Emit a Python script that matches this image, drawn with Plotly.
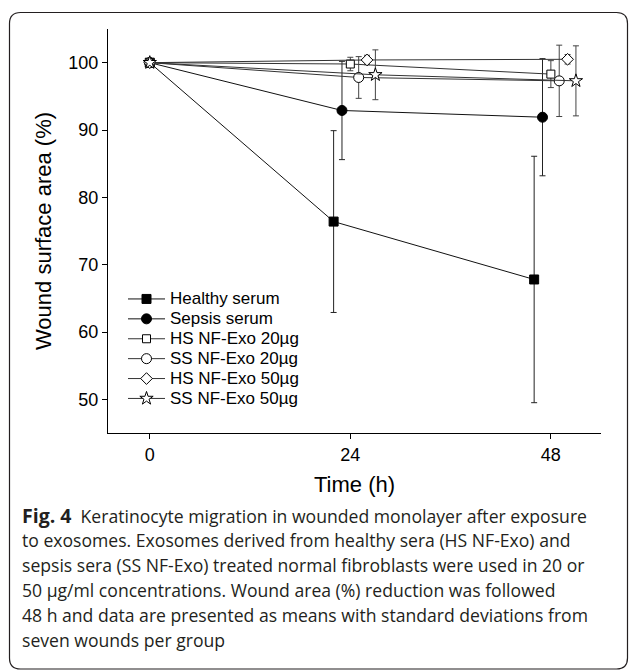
import plotly.graph_objects as go

# ---------------- data ----------------
series_names = ["Healthy serum", "Sepsis serum", "HS NF-Exo 20µg",
                "SS NF-Exo 20µg", "HS NF-Exo 50µg", "SS NF-Exo 50µg"]

# time (h); groups are drawn slightly side by side at 24 h and 48 h
healthy_x = [0, 22, 46]
sepsis_x = [0, 23, 47]
hs20_x = [0, 24, 48]
ss20_x = [0, 25, 49]
hs50_x = [0, 26, 50]
ss50_x = [0, 27, 51]

# mean wound surface area (%)
healthy_y = [100, 76.4, 67.8]
sepsis_y = [100, 92.9, 91.9]
hs20_y = [100, 99.8, 98.3]
ss20_y = [100, 97.8, 97.3]
hs50_y = [100, 100.4, 100.5]
ss50_y = [100, 98.2, 97.3]

# standard deviations
healthy_sd = [None, 13.5, 18.3]
sepsis_sd = [None, 7.3, 8.7]
hs20_sd = [None, 1.0, 2.0]
ss20_sd = [None, 3.1, 5.3]
hs50_sd = [None, 0.7, 0.7]
ss50_sd = [None, 3.7, 5.2]

x_ticks = [0, 24, 48]
y_ticks = [50, 60, 70, 80, 90, 100]

caption_lines = [
    '<b><span style="font-size:19.5px">Fig. 4</span></b>\u00a0\u00a0Keratinocyte migration in wounded monolayer after exposure',
    "to exosomes. Exosomes derived from healthy sera (HS NF-Exo) and",
    "sepsis sera (SS NF-Exo) treated normal fibroblasts were used in 20 or",
    "50 µg/ml concentrations. Wound area (%) reduction was followed",
    "48 h and data are presented as means with standard deviations from",
    "seven wounds per group",
]

# ---------------- layout geometry (pixels) ----------------
W, H = 629, 670
L, R, T, B = 108, 28, 29, 237
PW, PH = W - L - R, H - T - B


def px_x(px):
    return (px - L) / PW


def px_y(py):
    return (H - B - py) / PH


FONT = "Liberation Sans, Arial, sans-serif"
CAP_FONT = "Open Sans, Noto Sans, sans-serif"
INK = "#231f20"

styles = [
    dict(symbol="square", size=9, color="black", line=dict(color="black", width=1)),
    dict(symbol="circle", size=10, color="black", line=dict(color="black", width=1)),
    dict(symbol="square", size=8, color="white", line=dict(color="black", width=1)),
    dict(symbol="circle", size=10, color="white", line=dict(color="black", width=1)),
    dict(symbol="diamond", size=9, color="white", line=dict(color="black", width=1)),
    dict(symbol="star", size=10, color="white", line=dict(color="black", width=1)),
]

xs = [healthy_x, sepsis_x, hs20_x, ss20_x, hs50_x, ss50_x]
ys = [healthy_y, sepsis_y, hs20_y, ss20_y, hs50_y, ss50_y]
sds = [healthy_sd, sepsis_sd, hs20_sd, ss20_sd, hs50_sd, ss50_sd]
line_cols = ["#111111", "#111111", "#333333", "#333333", "#333333", "#333333"]
err_cols = ["#222222", "#222222", "#444444", "#444444", "#444444", "#444444"]

fig = go.Figure()
for name, x, y, sd, st, lc, ec in zip(series_names, xs, ys, sds, styles, line_cols, err_cols):
    fig.add_trace(go.Scatter(
        x=x, y=y, mode="lines+markers",
        name='<span style="font-size:17px">' + name + "</span>",
        line=dict(color=lc, width=1),
        marker=st,
        error_y=dict(type="data", array=sd, visible=True, color=ec,
                     thickness=1, width=3),
        cliponaxis=False,
    ))

axis_common = dict(
    showgrid=False, zeroline=False, showline=True, linecolor="black",
    linewidth=1.3, ticks="outside", ticklen=5, tickwidth=1.3,
    tickcolor="black", tickfont=dict(family=FONT, size=18, color="black"),
)

fig.update_layout(
    width=W, height=H,
    margin=dict(l=L, r=R, t=T, b=B, pad=0),
    paper_bgcolor="white", plot_bgcolor="white",
    showlegend=True,
    legend=dict(
        x=px_x(123), y=px_y(284), xanchor="left", yanchor="top",
        bgcolor="rgba(0,0,0,0)", borderwidth=0,
        font=dict(family=FONT, size=13, color="black"),
        tracegroupgap=0, itemwidth=37,
    ),
    xaxis=dict(range=[-5, 54], tickvals=x_ticks, ticktext=[str(v) for v in x_ticks],
               title=dict(text="Time (h)", font=dict(family=FONT, size=22, color="black"),
                          standoff=12),
               **axis_common),
    yaxis=dict(range=[45, 105], tickvals=y_ticks, ticktext=[str(v) for v in y_ticks],
               title=dict(text="Wound surface area (%)",
                          font=dict(family=FONT, size=22, color="black"), standoff=10),
               **axis_common),
)

# caption
line_centers = [515, 540, 565, 590, 615, 640]
for txt, cy in zip(caption_lines, line_centers):
    fig.add_annotation(
        text=txt, xref="paper", yref="paper", x=px_x(20), y=px_y(cy),
        xanchor="left", yanchor="middle", showarrow=False, align="left",
        font=dict(family=CAP_FONT, size=17.6, color=INK),
    )

# rounded frame around the figure
x0, y0, x1, y1, rr = 9.5, 12.5, 627.5, 669, 11
path = (
    f"M {px_x(x0 + rr)},{px_y(y0)} L {px_x(x1 - rr)},{px_y(y0)} "
    f"Q {px_x(x1)},{px_y(y0)} {px_x(x1)},{px_y(y0 + rr)} "
    f"L {px_x(x1)},{px_y(y1 - rr)} Q {px_x(x1)},{px_y(y1)} {px_x(x1 - rr)},{px_y(y1)} "
    f"L {px_x(x0 + rr)},{px_y(y1)} Q {px_x(x0)},{px_y(y1)} {px_x(x0)},{px_y(y1 - rr)} "
    f"L {px_x(x0)},{px_y(y0 + rr)} Q {px_x(x0)},{px_y(y0)} {px_x(x0 + rr)},{px_y(y0)} Z"
)
fig.add_shape(type="path", path=path, xref="paper", yref="paper",
              line=dict(color=INK, width=1.2), fillcolor="rgba(0,0,0,0)", layer="below")

fig.write_html("out.html")
